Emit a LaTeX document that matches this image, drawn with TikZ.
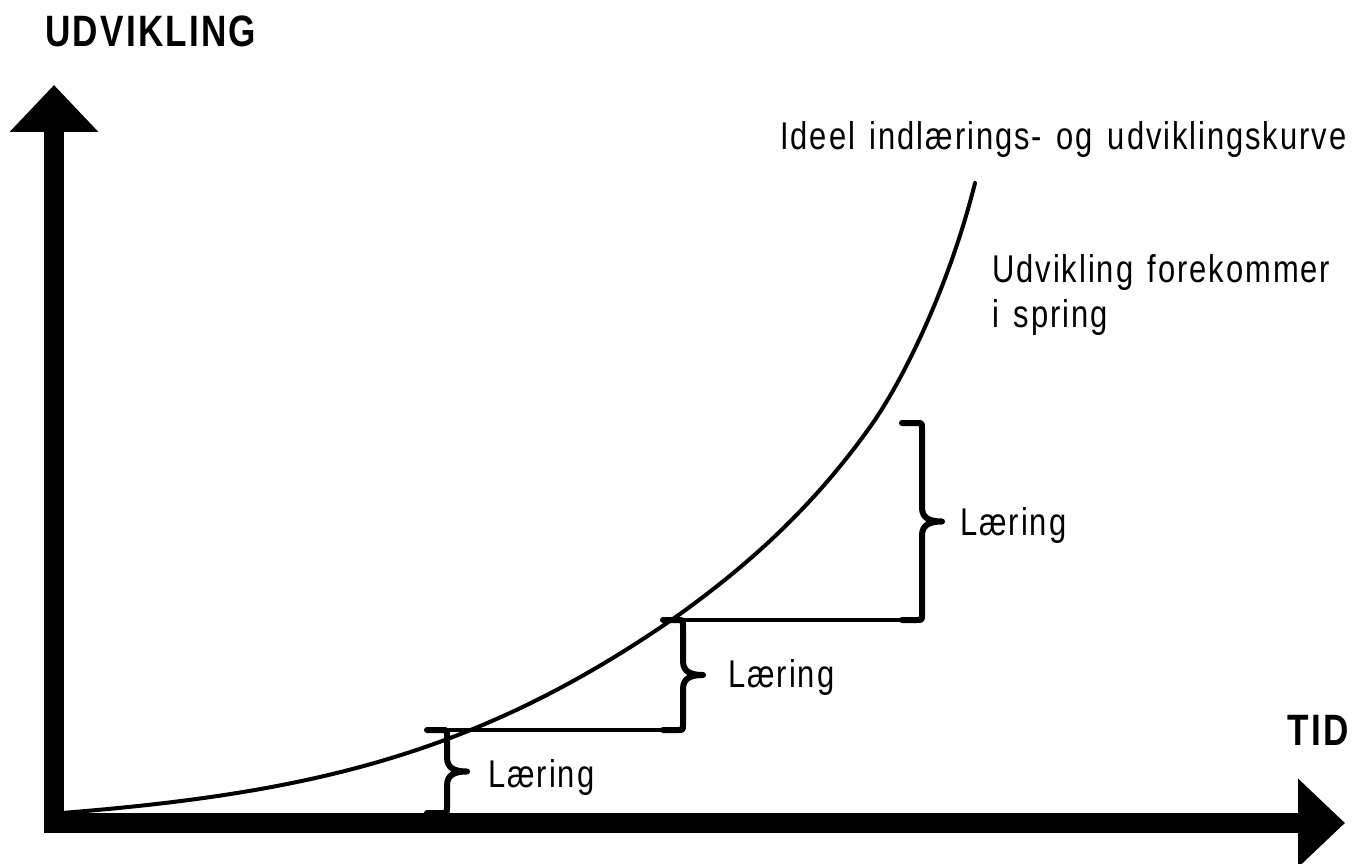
\documentclass[tikz,border=0pt]{standalone}
\usepackage{fontspec}
\setmainfont{Liberation Sans}[FakeStretch=0.8,LetterSpace=5,WordSpace=1.4]
\usetikzlibrary{arrows.meta}

\begin{document}
\begin{tikzpicture}[x=0.02cm,y=-0.02cm,
axis/.style={line width=0.39cm,-{Triangle[length=0.94cm,width=1.72cm]}},
curve/.style={line width=0.08cm,line cap=round},
stepline/.style={line width=0.07cm},
bracket/.style={line width=0.12cm,line cap=round,line join=round},
heading/.style={font=\fontsize{25}{30}\selectfont\bfseries,inner sep=0pt},
note/.style={font=\fontsize{22}{25.5}\selectfont,inner sep=0pt,align=left}]
\useasboundingbox (0,0) rectangle (1354,864);
% ideal curve
\coordinate (start) at (62,813);
\coordinate (mid) at (680,614);
\coordinate (bend) at (870,427);
\coordinate (end) at (975,183);
\draw[curve] (start) .. controls (312,793) and (480,754) .. (mid)
  .. controls (745,567) and (810,511) .. (bend)
  .. controls (905,378) and (950,283) .. (end);
% brackets for the learning steps
\foreach \bx/\yt/\yb/\n in {447/730/813/1,683/620/730/2,922/423/620/3}{
\pgfmathsetmacro\ym{(\yt+\yb)/2}
\coordinate (top\n) at (\bx-22,\yt);
\coordinate (bot\n) at (\bx,\yb);
\draw[bracket] (\bx-20,\yt) -- (\bx-5,\yt) .. controls (\bx,\yt) .. (\bx,\yt+5)
  -- (\bx,\ym-14) .. controls (\bx,\ym-3) and (\bx+8,\ym) .. (\bx+20,\ym)
  .. controls (\bx+8,\ym) and (\bx,\ym+3) .. (\bx,\ym+14)
  -- (\bx,\yb-5) .. controls (\bx,\yb) .. (\bx-5,\yb) -- (\bx-20,\yb);}
\draw[stepline] (top1) -- (bot2);
\draw[stepline] (top2) -- (bot3);
% axes
\coordinate (origin) at (54,833);
\coordinate (ytip) at (54,85);
\coordinate (xstart) at (45,823);
\coordinate (xtip) at (1345,823);
\draw[axis] (origin) -- (ytip);
\draw[axis] (xstart) -- (xtip);
% texts
\node[heading,anchor=base west] (ylabel) at (45,47) {UDVIKLING};
\node[heading,anchor=base east] (xlabel) at (1349,745) {TID};
\node[note,anchor=base west] (curvename) at (780,150) {Ideel indlærings- og udviklingskurve};
\node[note,anchor=north west] (springnote) at (992,254) {Udvikling forekommer\\i spring};
\node[note,anchor=base west] (learn1) at (488,787) {Læring};
\node[note,anchor=base west] (learn2) at (728,687) {Læring};
\node[note,anchor=base west] (learn3) at (960,535) {Læring};
\end{tikzpicture}
\end{document}
